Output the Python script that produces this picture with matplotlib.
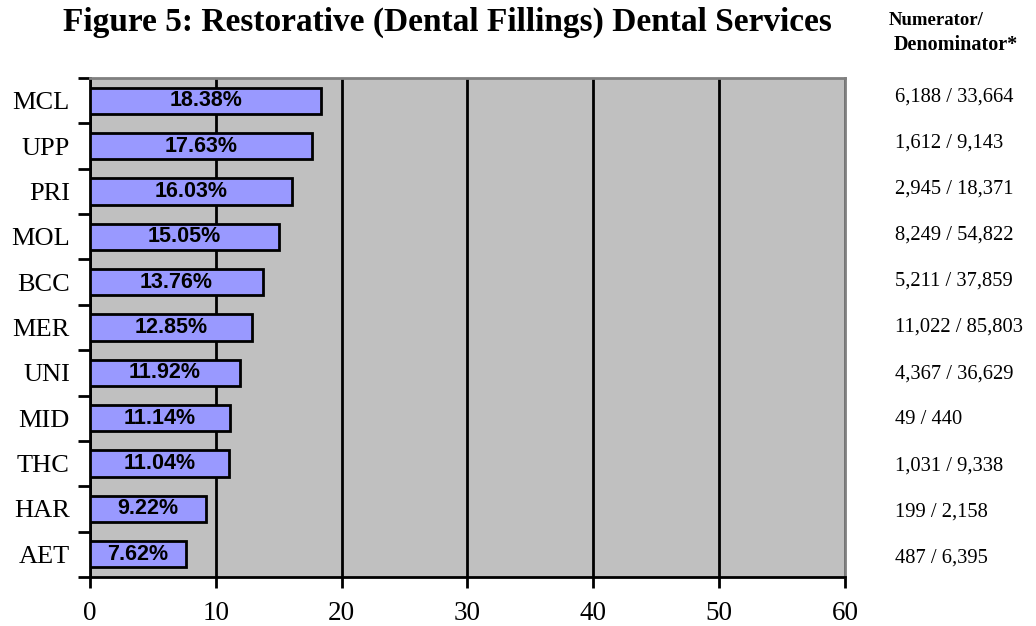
import matplotlib
matplotlib.use("Agg")
import matplotlib.pyplot as plt
import numpy as np

# data, top to bottom as shown
plans = ["MCL", "UPP", "PRI", "MOL", "BCC", "MER", "UNI", "MID", "THC", "HAR", "AET"]
rates = [18.38, 17.63, 16.03, 15.05, 13.76, 12.85, 11.92, 11.14, 11.04, 9.22, 7.62]
num_den = ["6,188 / 33,664", "1,612 / 9,143", "2,945 / 18,371", "8,249 / 54,822",
           "5,211 / 37,859", "11,022 / 85,803", "4,367 / 36,629", "49 / 440",
           "1,031 / 9,338", "199 / 2,158", "487 / 6,395"]
x_ticks = [0, 10, 20, 30, 40, 50, 60]

serif = "Liberation Serif"
sans = "Liberation Sans"

fig = plt.figure(figsize=(10.36, 6.26), dpi=100)
ax = fig.add_axes([0.0869, 0.0783, 0.7287, 0.7971])
ax.set_facecolor("#C0C0C0")

y = np.arange(len(plans))
ax.barh(y, rates, height=0.58, color="#9999FF", edgecolor="black", linewidth=2, zorder=3)

for yi, r in zip(y, rates):
    ax.text(r / 2, yi, f"{r:.2f}%", ha="center", va="center", fontsize=15.5,
            fontweight="bold", family=sans, zorder=4)

ax.set_xlim(0, 60)
ax.set_ylim(len(plans) - 0.5, -0.5)
ax.set_xticks(x_ticks)
ax.set_xticklabels([str(t) for t in x_ticks], family=serif, fontsize=19.5)
ax.set_yticks(y)
ax.set_yticklabels(plans, family=serif, fontsize=19)
ax.set_yticks(np.arange(-0.5, len(plans)), minor=True)
ax.tick_params(axis="y", which="major", length=0, pad=14.5)
ax.tick_params(axis="y", which="minor", length=9, width=2, direction="out")
ax.tick_params(axis="x", length=8, width=2, direction="out", pad=9)

ax.grid(axis="x", color="black", linewidth=2, zorder=1)
ax.set_axisbelow(True)
for side in ["left", "bottom"]:
    ax.spines[side].set_linewidth(2)
    ax.spines[side].set_color("black")
for side in ["top", "right"]:
    ax.spines[side].set_linewidth(2)
    ax.spines[side].set_color("#808080")

fig.text(0.4315, 0.964, "Figure 5: Restorative (Dental Fillings) Dental Services",
         ha="center", va="center", family=serif, fontweight="bold", fontsize=24)
fig.text(0.858, 0.968, "Numerator/", ha="left", va="center", family=serif,
         fontweight="bold", fontsize=13.5)
fig.text(0.863, 0.928, "Denominator*", ha="left", va="center", family=serif,
         fontweight="bold", fontsize=14.5)

text_y = np.linspace(97, 558, len(num_den))
for ty, s in zip(text_y, num_den):
    fig.text(0.8635, 1 - ty / 626, s, ha="left", va="center", family=serif, fontsize=14.8)

fig.savefig("out.png", dpi=100)
